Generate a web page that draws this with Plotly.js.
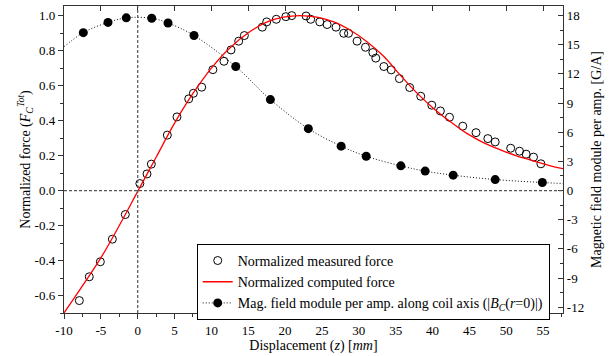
<!DOCTYPE html>
<html>
<head>
<meta charset="utf-8">
<script src="https://cdn.plot.ly/plotly-3.0.1.min.js"></script>
<style>html,body{margin:0;padding:0;background:#fff;}#chart{width:616px;height:356px;}</style>
</head>
<body>
<div id="chart"></div>
<script>
// Measured normalized force (open circles)
var measX = [-7.92, -6.57, -5.07, -3.44, -1.68, 0.29, 1.26, 1.85, 4.02, 5.33, 6.92, 7.55, 8.68, 10.2, 11.7, 12.66, 13.7, 14.47, 16.9, 17.5, 18.8, 20.1, 20.9, 22.84, 23.47, 24.7, 25.7, 26.9, 27.95, 28.6, 29.76, 30.9, 31.9, 32.3, 33.4, 34.4, 35.5, 36.9, 38.4, 39.9, 41.06, 42.3, 44.1, 45.9, 47.5, 48.5, 50.6, 51.8, 52.7, 53.7, 54.7];
var measY = [-0.629, -0.493, -0.407, -0.278, -0.137, 0.04, 0.095, 0.151, 0.317, 0.421, 0.524, 0.556, 0.591, 0.691, 0.739, 0.804, 0.854, 0.886, 0.934, 0.964, 0.979, 0.994, 1.0, 0.998, 0.979, 0.964, 0.949, 0.934, 0.899, 0.899, 0.854, 0.819, 0.789, 0.757, 0.709, 0.69, 0.64, 0.589, 0.539, 0.488, 0.455, 0.419, 0.368, 0.331, 0.297, 0.278, 0.242, 0.225, 0.208, 0.191, 0.153];

// Computed normalized force (red curve)
var compX = [-10, -7.5, -5, -2.5, 0, 2.5, 5, 7.5, 10, 12.5, 15.24, 17.5, 19.76, 22, 24.3, 26.5, 28.8, 31.1, 33.4, 35.6, 37.9, 40.1, 42.4, 44.6, 46.9, 49.2, 51.4, 53.7, 55.9, 57.7];
var compY = [-0.70, -0.545, -0.385, -0.20, -0.005, 0.19, 0.385, 0.555, 0.70, 0.815, 0.909, 0.963, 0.991, 1.0, 0.991, 0.966, 0.918, 0.851, 0.766, 0.661, 0.557, 0.471, 0.394, 0.328, 0.274, 0.233, 0.198, 0.170, 0.143, 0.125];

// Magnetic field module per amp along coil axis [G/A] (filled markers)
var fieldX = [-7.38, -4.03, -1.55, 1.90, 4.11, 7.64, 13.3, 18.0, 23.15, 27.6, 31.0, 35.7, 39.0, 42.8, 48.5, 54.9];
var fieldY = [16.25, 17.3, 17.77, 17.73, 17.24, 15.95, 12.76, 9.36, 6.37, 4.57, 3.53, 2.54, 2.0, 1.58, 1.13, 0.83];
// Dotted curve end points
var fieldStartX = -10, fieldStartY = 14.8;
var fieldEndX = 57.7, fieldEndY = 0.72;

// Tick labels
var xTickVals = [-10, -5, 0, 5, 10, 15, 20, 25, 30, 35, 40, 45, 50, 55];
var xTickText = ['-10', '-5', '0', '5', '10', '15', '20', '25', '30', '35', '40', '45', '50', '55'];
var yTickVals = [-0.6, -0.4, -0.2, 0.0, 0.2, 0.4, 0.6, 0.8, 1.0];
var yTickText = ['-0.6', '-0.4', '-0.2', '0.0', '0.2', '0.4', '0.6', '0.8', '1.0'];
var y2TickVals = [-12, -9, -6, -3, 0, 3, 6, 9, 12, 15, 18];
var y2TickText = ['-12', '-9', '-6', '-3', '0', '3', '6', '9', '12', '15', '18'];

var curveX = [fieldStartX].concat(fieldX, [fieldEndX]);
var curveY = [fieldStartY].concat(fieldY, [fieldEndY]);

var serif = "'Liberation Serif', 'Times New Roman', Times, serif";

var traces = [
  {x: measX, y: measY, type: 'scatter', mode: 'markers', name: 'Normalized measured force',
   marker: {symbol: 'circle-open', size: 8, color: '#000', line: {width: 1, color: '#000'}}},
  {x: compX, y: compY, type: 'scatter', mode: 'lines', name: 'Normalized computed force',
   line: {color: '#ff0000', width: 1.3, shape: 'spline'}},
  // dotted curve of the field (no legend entry of its own)
  {x: curveX, y: curveY, type: 'scatter', mode: 'lines', yaxis: 'y2', showlegend: false,
   line: {color: '#111', width: 1, dash: '1px,2px', shape: 'spline'}, hoverinfo: 'skip'},
  // field markers; its (invisible on plot) line only feeds the legend sample
  {x: fieldX, y: fieldY, type: 'scatter', mode: 'lines+markers', yaxis: 'y2',
   name: 'Mag. field module per amp. along coil axis (|<i>B</i><sub><i>C</i></sub>(<i>r</i>=0)|)',
   line: {color: 'rgba(0,0,0,0)', width: 1},
   marker: {symbol: 'circle', size: 9, color: '#000', opacity: 1, line: {width: 0}}}
];

// dummy trace to activate top axis ticks
traces.push({x: [0], y: [0], xaxis: 'x2', type: 'scatter', mode: 'markers', marker: {opacity: 0}, showlegend: false, hoverinfo: 'skip'});

var layout = {
  width: 616, height: 356,
  margin: {l: 64, r: 53, t: 6, b: 43},
  paper_bgcolor: '#fff', plot_bgcolor: '#fff',
  font: {family: serif, size: 13, color: '#000'},
  showlegend: true,
  legend: {x: 0.266, y: 0.225, xanchor: 'left', yanchor: 'top', bgcolor: '#fff',
    bordercolor: '#000', borderwidth: 1, font: {family: serif, size: 14, color: '#000'},
    tracegroupgap: 0, itemwidth: 30},
  xaxis: {range: [-10, 57.7], tickmode: 'array', tickvals: xTickVals, ticktext: xTickText,
    showgrid: false, zeroline: false, showline: true, linecolor: '#333', linewidth: 1.2,
    mirror: true, ticks: 'outside', ticklen: 5, tickcolor: '#333', tickfont: {family: serif, size: 13},
    minor: {dtick: 2.5, tick0: 0, ticks: 'outside', ticklen: 3, tickcolor: '#333', showgrid: false},
    title: {text: 'Displacement (<i>z</i>) [<i>mm</i>]', font: {family: serif, size: 14}, standoff: 2}},
  xaxis2: {range: [-10, 57.7], overlaying: 'x', side: 'top', tickmode: 'array', tickvals: xTickVals,
    showticklabels: false, showgrid: false, zeroline: false, ticks: 'inside', ticklen: 5, tickcolor: '#333', showline: false},
  yaxis: {range: [-0.7, 1.055], tickmode: 'array', tickvals: yTickVals, ticktext: yTickText,
    showgrid: false, zeroline: false, showline: true, linecolor: '#333', linewidth: 1.2,
    ticks: 'outside', ticklen: 5, tickcolor: '#333', tickfont: {family: serif, size: 13},
    minor: {dtick: 0.1, tick0: 0, ticks: 'outside', ticklen: 3, tickcolor: '#333', showgrid: false},
    title: {text: 'Normalized force (<i>F</i><sub><i>C</i></sub><sup><i>Tot</i></sup>)', font: {family: serif, size: 14}, standoff: 0}},
  yaxis2: {range: [-12.6, 18.99], overlaying: 'y', side: 'right', tickmode: 'array', tickvals: y2TickVals, ticktext: y2TickText,
    showgrid: false, zeroline: false, showline: true, linecolor: '#333', linewidth: 1.2,
    ticks: 'inside', ticklen: 5, tickcolor: '#333', tickfont: {family: serif, size: 13},
    minor: {dtick: 1.5, tick0: 0, ticks: 'inside', ticklen: 3, tickcolor: '#333', showgrid: false},
    title: {text: 'Magnetic field module per amp. [G/A]', font: {family: serif, size: 14}, standoff: 8}},
  shapes: [
    {type: 'line', xref: 'x', yref: 'paper', x0: 0, x1: 0, y0: 0, y1: 1, line: {color: '#555', width: 1.2, dash: '3px,2px'}},
    {type: 'line', xref: 'paper', yref: 'y', x0: 0, x1: 1, y0: 0, y1: 0, line: {color: '#555', width: 1.2, dash: '3px,2px'}}
  ]
};

Plotly.newPlot('chart', traces, layout, {displayModeBar: false, staticPlot: true}).then(function (gd) {
  // give the legend sample of the field entry a visible dotted line
  var items = document.querySelectorAll('.legend .traces');
  items.forEach(function (it) {
    var txt = it.querySelector('.legendtext');
    if (txt && txt.textContent.indexOf('Mag. field') === 0) {
      var ln = it.querySelector('.js-line');
      if (ln) { ln.style.stroke = '#111'; ln.style.strokeDasharray = '1px,2px'; ln.style.strokeOpacity = 1; }
    }
  });
});
</script>
</body>
</html>
